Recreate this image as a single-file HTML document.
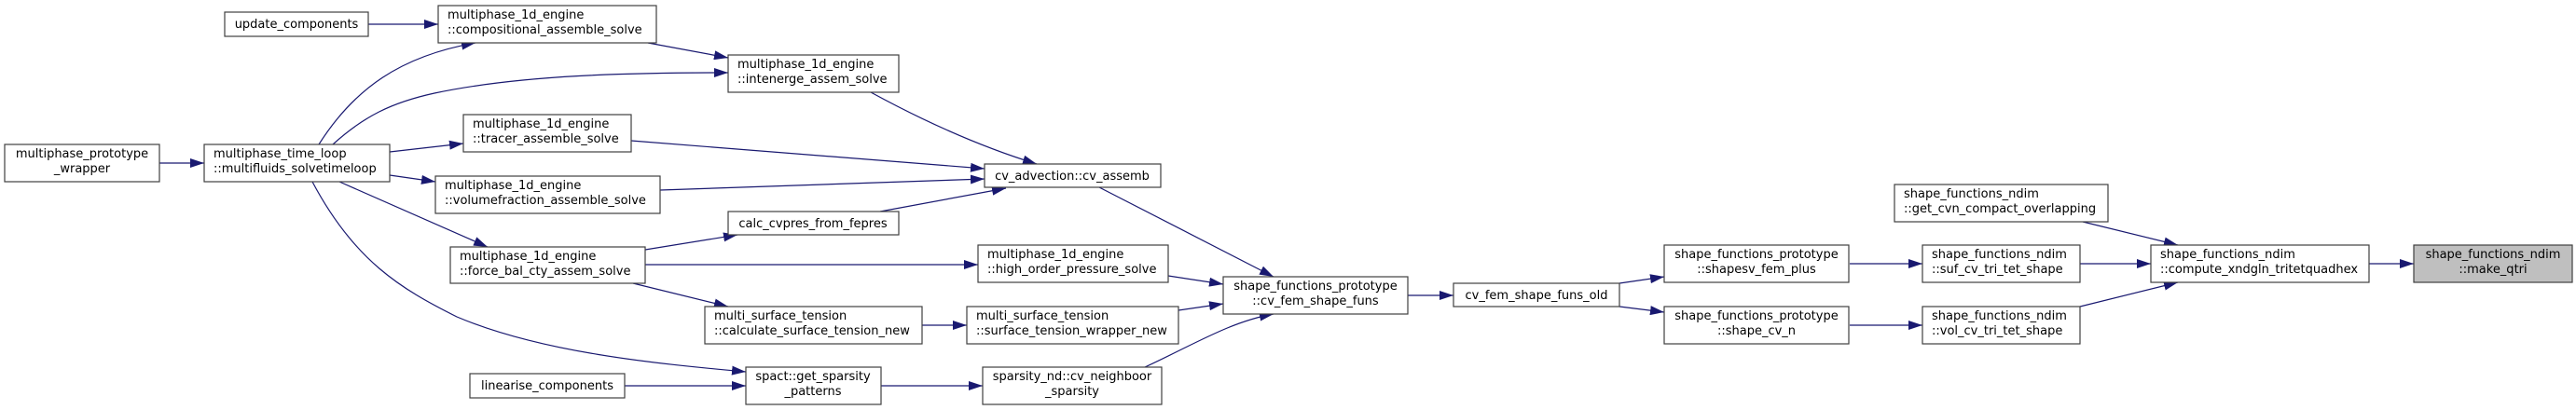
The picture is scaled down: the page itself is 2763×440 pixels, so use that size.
<!DOCTYPE html>
<html><head><meta charset="utf-8"><style>
html,body{margin:0;padding:0;background:#fff;}
svg{display:block;}
text{font-family:"DejaVu Sans","Liberation Sans",sans-serif;font-size:13px;fill:#000;}
.n{fill:#fff;stroke:#404040;stroke-width:1.2;}
.e{fill:none;stroke:#191970;stroke-width:1.2;}
</style></head><body>
<svg width="2763" height="440" viewBox="0 0 2763 440" xmlns="http://www.w3.org/2000/svg">
<defs><marker id="a" markerWidth="15" markerHeight="10" refX="15" refY="5" orient="auto" markerUnits="userSpaceOnUse"><path d="M0,0 L15,5 L0,10 z" fill="#191970"/></marker></defs>

<!-- edges -->
<path class="e" marker-end="url(#a)" d="M395,26 L470,26"/>
<path class="e" marker-end="url(#a)" d="M695,46 L781,62"/>
<path class="e" marker-end="url(#a)" d="M342,155 C380,95 430,60 510,46"/>
<path class="e" marker-end="url(#a)" d="M357,155 C390,125 420,110 466,100 C560,80 680,78 781,78"/>
<path class="e" marker-end="url(#a)" d="M418,163 L497,154"/>
<path class="e" marker-end="url(#a)" d="M418,188 L467,195"/>
<path class="e" marker-end="url(#a)" d="M171,175 L219,175"/>
<path class="e" marker-end="url(#a)" d="M364,195 L523,265"/>
<path class="e" marker-end="url(#a)" d="M335,195 C380,280 430,310 490,340 C580,378 700,390 800,399"/>
<path class="e" marker-end="url(#a)" d="M934,99 C1000,135 1060,160 1112,176"/>
<path class="e" marker-end="url(#a)" d="M677,151 L1056,181"/>
<path class="e" marker-end="url(#a)" d="M708,204 L1056,192"/>
<path class="e" marker-end="url(#a)" d="M944,227 L1079,202"/>
<path class="e" marker-end="url(#a)" d="M692,268 L791,252"/>
<path class="e" marker-end="url(#a)" d="M692,284 L1049,284"/>
<path class="e" marker-end="url(#a)" d="M679,304 L781,329"/>
<path class="e" marker-end="url(#a)" d="M670,414 L800,414"/>
<path class="e" marker-end="url(#a)" d="M1179,201 L1366,297"/>
<path class="e" marker-end="url(#a)" d="M1253,296 L1312,305"/>
<path class="e" marker-end="url(#a)" d="M989,349 L1037,349"/>
<path class="e" marker-end="url(#a)" d="M1264,333 L1312,326"/>
<path class="e" marker-end="url(#a)" d="M945,414 L1054,414"/>
<path class="e" marker-end="url(#a)" d="M1228,394 C1280,370 1320,345 1366,337"/>
<path class="e" marker-end="url(#a)" d="M1510,317 L1559,317"/>
<path class="e" marker-end="url(#a)" d="M1737,304 L1785,297"/>
<path class="e" marker-end="url(#a)" d="M1737,329 L1785,335"/>
<path class="e" marker-end="url(#a)" d="M1984,283 L2062,283"/>
<path class="e" marker-end="url(#a)" d="M1984,349 L2062,349"/>
<path class="e" marker-end="url(#a)" d="M2234,238 L2336,263"/>
<path class="e" marker-end="url(#a)" d="M2231,283 L2307,283"/>
<path class="e" marker-end="url(#a)" d="M2231,329 L2336,303"/>
<path class="e" marker-end="url(#a)" d="M2541,283 L2589,283"/>

<!-- nodes -->
<rect class="n" x="241" y="13" width="154" height="26"/><text x="318" y="30" text-anchor="middle">update_components</text>
<rect class="n" x="470" y="6" width="234" height="40"/><text x="480" y="20">multiphase_1d_engine</text><text x="480" y="36">::compositional_assemble_solve</text>
<rect class="n" x="781" y="59" width="183" height="40"/><text x="791" y="73">multiphase_1d_engine</text><text x="791" y="89">::intenerge_assem_solve</text>
<rect class="n" x="5" y="155" width="166" height="40"/><text x="88" y="169" text-anchor="middle">multiphase_prototype</text><text x="88" y="185" text-anchor="middle">_wrapper</text>
<rect class="n" x="219" y="155" width="199" height="40"/><text x="229" y="169">multiphase_time_loop</text><text x="229" y="185">::multifluids_solvetimeloop</text>
<rect class="n" x="497" y="123" width="180" height="40"/><text x="507" y="137">multiphase_1d_engine</text><text x="507" y="153">::tracer_assemble_solve</text>
<rect class="n" x="467" y="189" width="241" height="40"/><text x="477" y="203">multiphase_1d_engine</text><text x="477" y="219">::volumefraction_assemble_solve</text>
<rect class="n" x="781" y="227" width="183" height="25"/><text x="872" y="244" text-anchor="middle">calc_cvpres_from_fepres</text>
<rect class="n" x="483" y="265" width="209" height="39"/><text x="493" y="279">multiphase_1d_engine</text><text x="493" y="295">::force_bal_cty_assem_solve</text>
<rect class="n" x="756" y="329" width="233" height="40"/><text x="766" y="343">multi_surface_tension</text><text x="766" y="359">::calculate_surface_tension_new</text>
<rect class="n" x="504" y="401" width="166" height="26"/><text x="587" y="418" text-anchor="middle">linearise_components</text>
<rect class="n" x="800" y="394" width="145" height="40"/><text x="872" y="408" text-anchor="middle">spact::get_sparsity</text><text x="872" y="424" text-anchor="middle">_patterns</text>
<rect class="n" x="1056" y="176" width="189" height="25"/><text x="1150" y="193" text-anchor="middle">cv_advection::cv_assemb</text>
<rect class="n" x="1049" y="263" width="204" height="40"/><text x="1059" y="277">multiphase_1d_engine</text><text x="1059" y="293">::high_order_pressure_solve</text>
<rect class="n" x="1037" y="329" width="227" height="40"/><text x="1047" y="343">multi_surface_tension</text><text x="1047" y="359">::surface_tension_wrapper_new</text>
<rect class="n" x="1054" y="394" width="192" height="40"/><text x="1150" y="408" text-anchor="middle">sparsity_nd::cv_neighboor</text><text x="1150" y="424" text-anchor="middle">_sparsity</text>
<rect class="n" x="1312" y="297" width="198" height="40"/><text x="1411" y="311" text-anchor="middle">shape_functions_prototype</text><text x="1411" y="327" text-anchor="middle">::cv_fem_shape_funs</text>
<rect class="n" x="1559" y="304" width="178" height="25"/><text x="1648" y="321" text-anchor="middle">cv_fem_shape_funs_old</text>
<rect class="n" x="1785" y="263" width="198" height="40"/><text x="1884" y="277" text-anchor="middle">shape_functions_prototype</text><text x="1884" y="293" text-anchor="middle">::shapesv_fem_plus</text>
<rect class="n" x="1785" y="329" width="198" height="40"/><text x="1884" y="343" text-anchor="middle">shape_functions_prototype</text><text x="1884" y="359" text-anchor="middle">::shape_cv_n</text>
<rect class="n" x="2032" y="198" width="229" height="40"/><text x="2042" y="212">shape_functions_ndim</text><text x="2042" y="228">::get_cvn_compact_overlapping</text>
<rect class="n" x="2062" y="263" width="169" height="40"/><text x="2072" y="277">shape_functions_ndim</text><text x="2072" y="293">::suf_cv_tri_tet_shape</text>
<rect class="n" x="2062" y="329" width="169" height="40"/><text x="2072" y="343">shape_functions_ndim</text><text x="2072" y="359">::vol_cv_tri_tet_shape</text>
<rect class="n" x="2307" y="263" width="234" height="40"/><text x="2317" y="277">shape_functions_ndim</text><text x="2317" y="293">::compute_xndgln_tritetquadhex</text>
<rect class="n" x="2589" y="263" width="170" height="40" style="fill:#bfbfbf"/><text x="2674" y="277" text-anchor="middle">shape_functions_ndim</text><text x="2674" y="293" text-anchor="middle">::make_qtri</text>
</svg>
</body></html>
